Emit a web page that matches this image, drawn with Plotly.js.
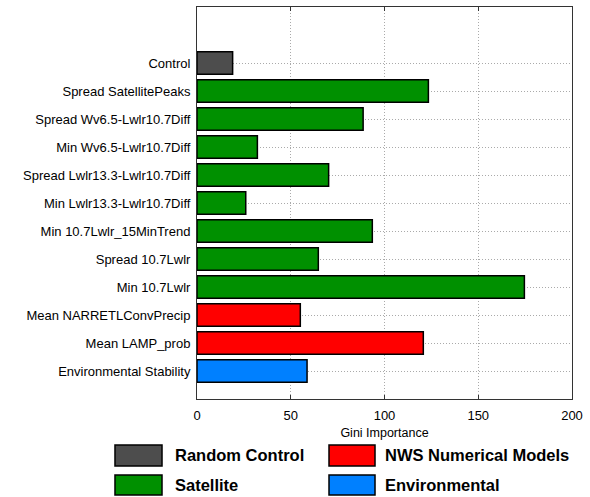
<!DOCTYPE html>
<html>
<head>
<meta charset="utf-8">
<script src="https://cdn.plot.ly/plotly-3.0.1.min.js"></script>
<style>html,body{margin:0;padding:0;background:#fff;}#chart{width:590px;height:497px;}</style>
</head>
<body>
<div id="chart"></div>
<script>
// Data (top to bottom)
const features = [
  "Control",
  "Spread SatellitePeaks",
  "Spread Wv6.5-Lwlr10.7Diff",
  "Min Wv6.5-Lwlr10.7Diff",
  "Spread Lwlr13.3-Lwlr10.7Diff",
  "Min Lwlr13.3-Lwlr10.7Diff",
  "Min 10.7Lwlr_15MinTrend",
  "Spread 10.7Lwlr",
  "Min 10.7Lwlr",
  "Mean NARRETLConvPrecip",
  "Mean LAMP_prob",
  "Environmental Stability"
];
const giniImportance = [19, 123.4, 88.6, 32.2, 70.2, 26, 93.5, 64.7, 174.6, 55.1, 120.7, 58.7];
const featureGroup = ["Random Control", "Satellite", "Satellite", "Satellite", "Satellite", "Satellite",
  "Satellite", "Satellite", "Satellite", "NWS Numerical Models", "NWS Numerical Models", "Environmental"];
const groupNames = ["Random Control", "NWS Numerical Models", "Satellite", "Environmental"];
const groupColors = {"Random Control": "#4d4d4d", "NWS Numerical Models": "#ff0000", "Satellite": "#009000", "Environmental": "#0080ff"};
const xTicks = [0, 50, 100, 150, 200];

const trace = {
  type: "bar",
  orientation: "h",
  x: giniImportance,
  y: features,
  width: 0.8,
  marker: {color: featureGroup.map(g => groupColors[g]), line: {color: "#000", width: 1.5}},
  showlegend: false,
  hoverinfo: "x+y"
};

// Legend drawn as boxes + labels (2 columns)
const shapes = [];
const annotations = [];
const colX = [[-0.2187, -0.0933, -0.064], [0.352, 0.4747, 0.496]];
const rowY = [[-0.1173, -0.171, -0.1441], [-0.1939, -0.2449, -0.2194]];
groupNames.forEach((g, i) => {
  const c = colX[i % 2], r = rowY[Math.floor(i / 2)];
  shapes.push({type: "rect", xref: "paper", yref: "paper", x0: c[0], x1: c[1], y0: r[0], y1: r[1],
    fillcolor: groupColors[g], line: {color: "#000", width: 1.5}, layer: "above"});
  annotations.push({xref: "paper", yref: "paper", x: c[2], y: r[2], xanchor: "left", yanchor: "middle",
    text: "<b>" + g + "</b>", showarrow: false, font: {size: 16.5, color: "#000", family: "Liberation Sans, Arial, sans-serif"}});
});

const layout = {
  width: 590, height: 497,
  margin: {l: 197, r: 18, t: 7, b: 98},
  paper_bgcolor: "#fff", plot_bgcolor: "#fff",
  font: {family: "Liberation Sans, Arial, sans-serif", size: 13, color: "#000"},
  bargap: 0.2,
  xaxis: {
    range: [0, 200], tickvals: xTicks, ticktext: xTicks.map(String),
    showgrid: true, gridcolor: "#aaaaaa", griddash: "1px,2px", gridwidth: 1,
    zeroline: false, showline: true, linecolor: "#333", linewidth: 1, mirror: "ticks",
    ticks: "inside", ticklen: 4, tickcolor: "#333", ticklabelstandoff: 4,
    tickfont: {size: 13, color: "#000"},
    title: {text: "Gini Importance", font: {size: 12.5, color: "#000"}, standoff: 6}
  },
  yaxis: {
    type: "category", categoryorder: "array", categoryarray: features,
    range: [12, -2],
    showgrid: true, gridcolor: "#aaaaaa", griddash: "1px,2px", gridwidth: 1,
    zeroline: false, showline: true, linecolor: "#333", linewidth: 1, mirror: true,
    ticks: "", ticklabelstandoff: 3,
    tickfont: {size: 13, color: "#000"}
  },
  shapes: shapes,
  annotations: annotations
};

Plotly.newPlot("chart", [trace], layout, {displayModeBar: false, staticPlot: true});
</script>
</body>
</html>
